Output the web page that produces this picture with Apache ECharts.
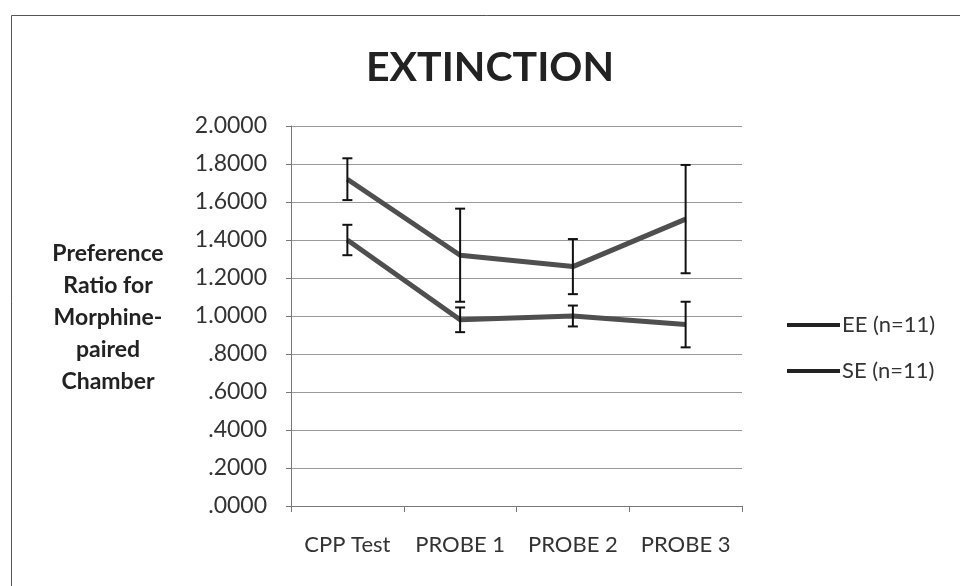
<!DOCTYPE html>
<html>
<head>
<meta charset="utf-8">
<script src="https://cdn.jsdelivr.net/npm/echarts@6/dist/echarts.min.js"></script>
<style>
  html, body { margin: 0; padding: 0; background: #fff; }
  #chart { width: 960px; height: 586px; }
</style>
</head>
<body>
<div id="chart"></div>
<script>
;(function () {
  'use strict'

  var categories = ['CPP Test', 'PROBE 1', 'PROBE 2', 'PROBE 3']
  var eeMean = [1.72, 1.32, 1.26, 1.51]
  var eeErr  = [0.11, 0.245, 0.145, 0.285]
  var seMean = [1.40, 0.98, 1.00, 0.955]
  var seErr  = [0.08, 0.065, 0.055, 0.12]

  var FONT = 'Lato, "Open Sans", sans-serif'
  var LINE = '#4f4f4f'

  function errData(mean, err) {
    return mean.map(function (m, i) { return [i, m - err[i], m + err[i]] })
  }

  function errRender(params, api) {
    var lo = api.coord([api.value(0), api.value(1)])
    var hi = api.coord([api.value(0), api.value(2)])
    var half = 5
    var style = { stroke: '#111', lineWidth: 2 }
    return {
      type: 'group',
      children: [
        { type: 'line', shape: { x1: lo[0], y1: lo[1], x2: hi[0], y2: hi[1] }, style: style },
        { type: 'line', shape: { x1: lo[0] - half, y1: lo[1], x2: lo[0] + half, y2: lo[1] }, style: style },
        { type: 'line', shape: { x1: hi[0] - half, y1: hi[1], x2: hi[0] + half, y2: hi[1] }, style: style }
      ]
    }
  }

  var chart = echarts.init(document.getElementById('chart'))
  chart.setOption({
    backgroundColor: '#fff',
    animation: false,
    graphic: [
      {
        type: 'rect', left: 9, top: 13,
        shape: { width: 1000, height: 700 },
        style: { fill: 'none', stroke: '#555', lineWidth: 1 }
      },
      {
        type: 'text', x: 490, y: 68,
        style: {
          text: 'EXTINCTION',
          fontFamily: FONT, fontWeight: 'bold', fontSize: 41,
          fill: '#222', align: 'center', verticalAlign: 'middle'
        }
      },
      {
        type: 'text', x: 108, y: 318,
        style: {
          text: 'Preference\nRatio for\nMorphine-\npaired\nChamber',
          fontFamily: FONT, fontWeight: 'bold', fontSize: 23, lineHeight: 32,
          fill: '#222', align: 'center', verticalAlign: 'middle'
        }
      }
    ],
    legend: {
      orient: 'vertical',
      left: 782, top: 309,
      itemWidth: 53, itemHeight: 4, itemGap: 24,
      icon: 'rect',
      textStyle: { fontFamily: FONT, fontSize: 22, color: '#333', padding: [0, 0, 0, -3] },
      data: ['EE (n=11)', 'SE (n=11)']
    },
    grid: { left: 291, right: 218, top: 126, bottom: 80 },
    xAxis: {
      type: 'category',
      data: categories,
      boundaryGap: true,
      axisLine: { lineStyle: { color: '#777' } },
      axisTick: { show: true, interval: 0, length: 6, lineStyle: { color: '#777' } },
      axisLabel: { interval: 0, hideOverlap: false, margin: 28, fontFamily: FONT, fontSize: 22, color: '#333' }
    },
    yAxis: {
      type: 'value',
      min: 0, max: 2, interval: 0.2,
      axisLine: { show: true, lineStyle: { color: '#777' } },
      axisTick: { show: true, length: 5, lineStyle: { color: '#777' } },
      splitLine: { lineStyle: { color: '#999', width: 1 } },
      axisLabel: {
        margin: 24, fontFamily: FONT, fontSize: 23, color: '#333',
        formatter: function (v) { return v.toFixed(4).replace(/^0/, '') }
      }
    },
    series: [
      {
        name: 'EE (n=11)', type: 'line', data: eeMean,
        symbol: 'none', z: 3,
        lineStyle: { color: LINE, width: 5 }, itemStyle: { color: '#222' }
      },
      {
        name: 'SE (n=11)', type: 'line', data: seMean,
        symbol: 'none', z: 3,
        lineStyle: { color: LINE, width: 5 }, itemStyle: { color: '#222' }
      },
      {
        name: 'EE err', type: 'custom', data: errData(eeMean, eeErr),
        renderItem: errRender, z: 4, encode: { x: 0, y: [1, 2] }
      },
      {
        name: 'SE err', type: 'custom', data: errData(seMean, seErr),
        renderItem: errRender, z: 4, encode: { x: 0, y: [1, 2] }
      }
    ]
  })
})()
</script>
</body>
</html>
